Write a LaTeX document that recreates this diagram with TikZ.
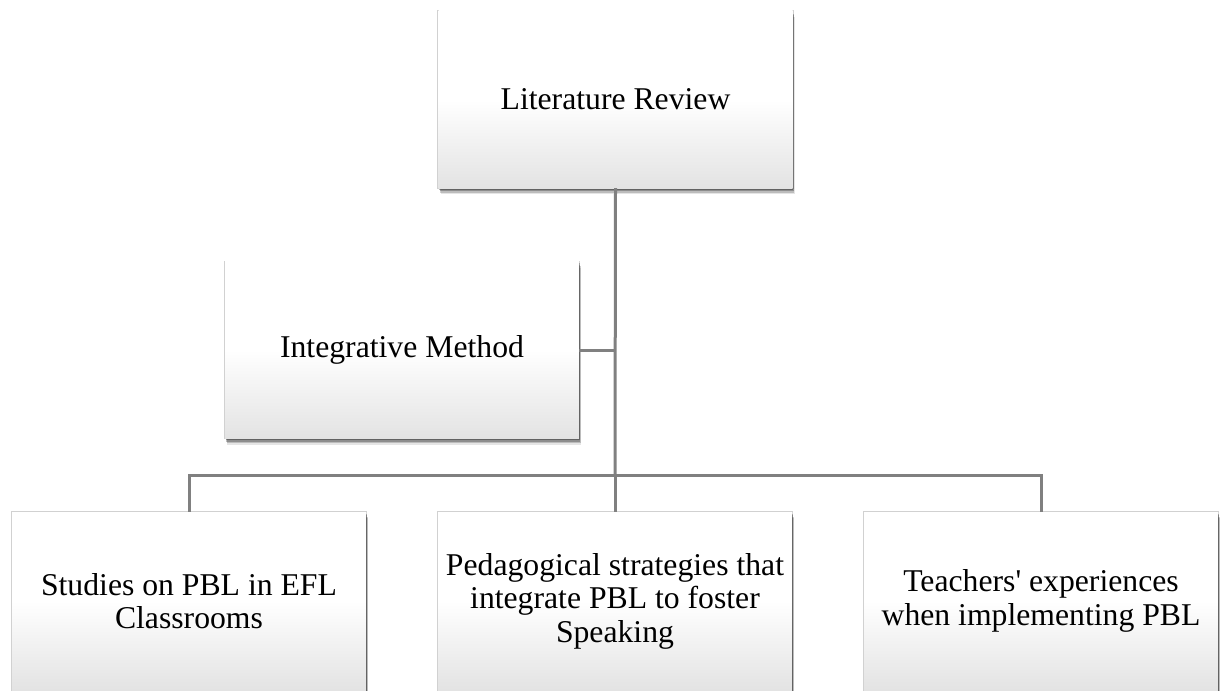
\documentclass[tikz,border=0pt]{standalone}
\usepackage{fontspec}
\newfontfamily\boxfont{Liberation Serif}
\usetikzlibrary{shadows}
\begin{document}
\begin{tikzpicture}[x=1pt,y=-1pt,
  softshadow/.style={
    general shadow={shadow scale=1.006, shadow xshift=0pt, shadow yshift=0pt, opacity=0.18, fill=black},
    drop shadow={shadow xshift=0.5pt, shadow yshift=-1.5pt, opacity=0.3, fill=black},
    drop shadow={shadow xshift=1pt, shadow yshift=-3pt, opacity=0.25, fill=black},
    drop shadow={shadow xshift=1.5pt, shadow yshift=-4.5pt, opacity=0.18, fill=black},
    drop shadow={shadow xshift=2pt, shadow yshift=-6pt, opacity=0.1, fill=black}},
  box/.style={rectangle, minimum width=354pt, minimum height=177pt, inner sep=0pt,
    align=center, font=\boxfont\fontsize{31.7}{33.5}\selectfont,
    top color=white, bottom color=black!11, middle color=white, softshadow},
  link/.style={draw=black!50, line width=3pt}]
\useasboundingbox (0,0) rectangle (1222,690);
\node[box] (lr) at (615.5,99.5) {Literature Review};
\node[box] (im) at (402,350) {Integrative Method};
\node[box, minimum height=178pt] (b1) at (189,601) {Studies on PBL in EFL\\Classrooms};
\node[box, minimum height=178pt] (b2) at (615,601) {Pedagogical strategies that\\integrate PBL to foster\\Speaking};
\node[box, minimum height=178pt] (b3) at (1041,601) {Teachers' experiences\\when implementing PBL};
\coordinate (bar) at (615,475);
\draw[link] (lr.south) -- (bar);
\draw[link] (bar) -- (b2.north);
\draw[link] (b1.north) |- (bar) -| (b3.north);
\draw[link] (im.east) -- (im.east -| lr.south);
\end{tikzpicture}
\end{document}
